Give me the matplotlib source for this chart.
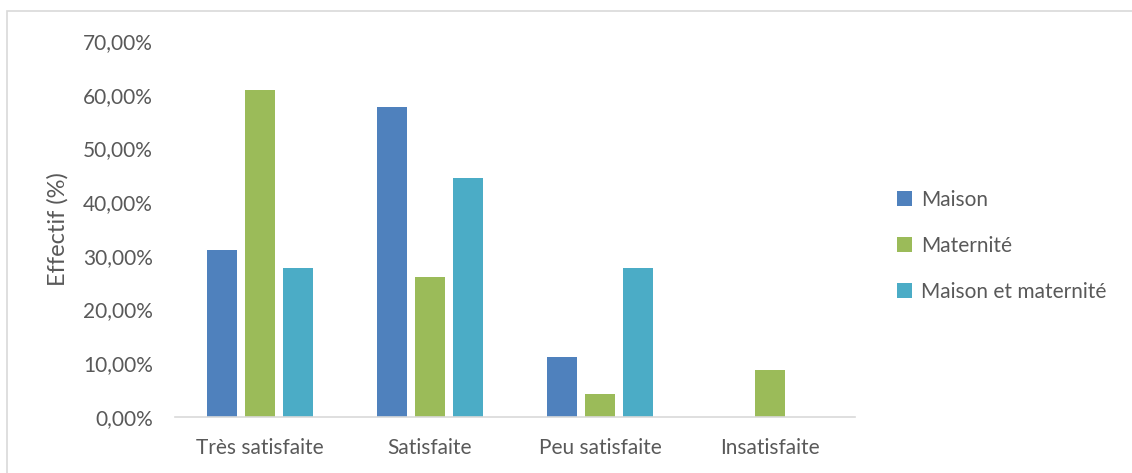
import matplotlib
matplotlib.use('Agg')
import matplotlib.pyplot as plt
import numpy as np
from matplotlib.patches import Rectangle, Patch
from matplotlib.ticker import FuncFormatter

# Satisfaction par lieu d'accouchement
categories = ['Très satisfaite', 'Satisfaite', 'Peu satisfaite', 'Insatisfaite']
maison = [31.11, 57.78, 11.11, 0.0]
maternite = [60.87, 26.09, 4.35, 8.70]
maison_maternite = [27.78, 44.44, 27.78, 0.0]
series_names = ['Maison', 'Maternité', 'Maison et maternité']
colors = ['#4F81BD', '#9BBB59', '#4BACC6']

text_color = '#595959'
plt.rcParams['font.family'] = ['Lato', 'DejaVu Sans']

fig = plt.figure(figsize=(11.32, 4.73), dpi=100)
fig.patch.set_facecolor('white')

# cadre du graphique
fig.patches.append(Rectangle((7 / 1132, -0.1), 1.2, 1 - 11 / 473 + 0.1,
                             transform=fig.transFigure, fill=False,
                             edgecolor='#D9D9D9', linewidth=1.2))

ax = fig.add_axes([175 / 1132, 1 - 417 / 473, 680 / 1132, 376 / 473])

x = np.arange(len(categories))
width = 0.176
step = 0.224
for i, (vals, name, c) in enumerate(zip([maison, maternite, maison_maternite],
                                         series_names, colors)):
    ax.bar(x + (i - 1) * step, vals, width=width, color=c, label=name)

ax.set_xlim(-0.5, len(categories) - 0.5)
ax.set_ylim(0, 70)
ax.set_yticks(np.arange(0, 71, 10))
ax.yaxis.set_major_formatter(FuncFormatter(lambda v, p: f'{v:.2f}%'.replace('.', ',')))
ax.set_xticks(x)
ax.set_xticklabels(categories)

for s in ['top', 'right', 'left']:
    ax.spines[s].set_visible(False)
ax.spines['bottom'].set_color('#D9D9D9')
ax.spines['bottom'].set_linewidth(1.2)
ax.tick_params(axis='both', length=0, labelsize=15, colors=text_color)
ax.tick_params(axis='y', pad=16)
ax.tick_params(axis='x', pad=15)

ax.set_ylabel('Effectif (%)', fontsize=17, color=text_color)
ax.yaxis.set_label_coords(-0.156, 0.5)

handles = [Patch(facecolor=c, label=n) for c, n in zip(colors, series_names)]
fig.legend(handles=handles, loc='upper left', bbox_to_anchor=(878 / 1132, 1 - 171 / 473),
           frameon=False, fontsize=15, labelcolor=text_color,
           handlelength=0.75, handleheight=0.75, handletextpad=0.4,
           labelspacing=1.25)

fig.savefig('out.png', dpi=100, facecolor='white')
